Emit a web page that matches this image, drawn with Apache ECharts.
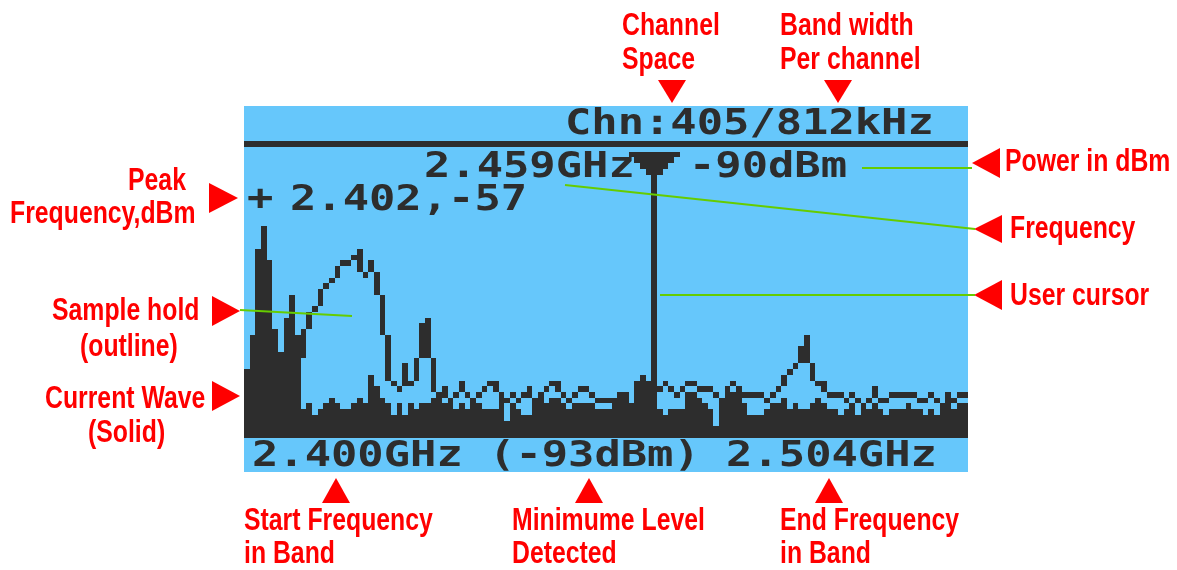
<!DOCTYPE html>
<html>
<head>
<meta charset="utf-8">
<script src="https://cdn.jsdelivr.net/npm/echarts/dist/echarts.min.js"></script>
<style>
html, body { margin: 0; padding: 0; background: #fff; }
#main { width: 1177px; height: 570px; }
</style>
</head>
<body>
<div id="main"></div>
<script>
// 128 channels, 812kHz each, 2.400 - 2.504 GHz
var channelInfo = 'Chn:405/812kHz';
var startFreq = '2.400GHz';
var endFreq = '2.504GHz';
var minLevel = '(-93dBm)';
var peakInfo = '2.402,-57';
var cursorFreq = '2.459GHz';
var cursorPower = '-90dBm';
var cursorChannel = 72;

// current wave (solid), dBm per channel
var currentWave = [
    -82, -76, -61, -57, -63, -75, -79, -73, -69, -76,
    -89, -88, -90, -89, -88, -87, -88, -89, -89, -88,
    -87, -88, -83, -85, -87, -88, -90, -88, -90, -88,
    -89, -88, -88, -87, -87, -88, -88, -89, -88, -89,
    -88, -88, -89, -89, -89, -87, -91, -88, -89, -90,
    -90, -88, -87, -88, -87, -87, -88, -89, -88, -88,
    -88, -88, -89, -89, -89, -88, -87, -87, -89, -84,
    -83, -84, -84, -89, -90, -89, -89, -89, -86, -86,
    -87, -88, -89, -92, -88, -87, -86, -86, -88, -90,
    -90, -90, -89, -88, -88, -87, -89, -88, -89, -89,
    -88, -87, -88, -89, -89, -90, -89, -88, -90, -89,
    -89, -88, -89, -90, -89, -89, -89, -88, -89, -89,
    -90, -89, -90, -89, -88, -89, -88, -88
];

// sample hold (outline), dBm per channel
var sampleHold = [
    -82, -76, -61, -57, -63, -75, -79, -73, -69, -80,
    -75, -72, -71, -68, -67, -66, -64, -63, -63, -62,
    -61, -65, -63, -65, -69, -76, -84, -85, -81, -84,
    -80, -74, -73, -80, -86, -85, -87, -86, -84, -86,
    -87, -86, -85, -84, -84, -86, -87, -86, -87, -86,
    -85, -87, -86, -85, -84, -84, -86, -87, -86, -85,
    -85, -86, -87, -87, -87, -87, -86, -86, -88, -84,
    -83, -84, -84, -85, -84, -85, -86, -85, -84, -84,
    -85, -85, -85, -86, -87, -85, -84, -85, -86, -86,
    -86, -86, -87, -86, -85, -83, -82, -81, -78, -76,
    -81, -84, -84, -86, -86, -86, -87, -86, -87, -88,
    -87, -85, -87, -87, -86, -86, -86, -86, -86, -87,
    -87, -86, -87, -88, -86, -87, -86, -86
];

var INK = '#2d2d2d';
var LCD = '#66c7fb';
var RED = '#ff0000';
var GREEN = '#66cc00';
var FLOOR = -94;

var chart = echarts.init(document.getElementById('main'));

// one LCD column, from dBm "top" down to dBm "bottom"
function colRect(api, i, top, bottom) {
    var a = api.coord([i, top]);
    var b = api.coord([i + 1, bottom]);
    var x0 = Math.round(a[0]), x1 = Math.round(b[0]);
    var y0 = Math.round(a[1]), y1 = Math.round(b[1]);
    return {
        type: 'rect',
        shape: { x: x0, y: y0, width: x1 - x0, height: y1 - y0 },
        style: { fill: INK }
    };
}

function toPoints(arr) {
    return arr.map(function (v, i) { return [i, v]; });
}

function lcdText(str, x, y) {
    return {
        type: 'text', x: x, y: y, scaleX: 1.25, z: 20,
        style: { text: str, fill: INK, font: 'bold 35px "DejaVu Sans Mono"', verticalAlign: 'middle' }
    };
}

function note(str, x, y) {
    return {
        type: 'text', x: x, y: y, scaleX: 0.8, z: 20,
        style: { text: str, fill: RED, font: 'bold 31px "Liberation Sans"', verticalAlign: 'middle' }
    };
}

function tri(points) {
    return { type: 'polygon', z: 20, shape: { points: points }, style: { fill: RED } };
}

function leader(x1, y1, x2, y2) {
    return { type: 'line', z: 30, shape: { x1: x1, y1: y1, x2: x2, y2: y2 }, style: { stroke: GREEN, lineWidth: 2 } };
}

var option = {
    animation: false,
    grid: {
        left: 244, top: 106, width: 724, height: 366,
        show: true, backgroundColor: LCD, borderWidth: 0
    },
    xAxis: { type: 'value', min: 0, max: 128, show: false },
    yAxis: { type: 'value', min: -100, max: -36, show: false },
    series: [
        {
            name: 'Current Wave',
            type: 'custom',
            data: toPoints(currentWave),
            renderItem: function (params, api) {
                return colRect(api, api.value(0), api.value(1), FLOOR);
            }
        },
        {
            name: 'Sample hold',
            type: 'custom',
            data: toPoints(sampleHold),
            renderItem: function (params, api) {
                var i = params.dataIndex;
                var v = sampleHold[i];
                // join to the neighbours like the LCD line drawing does
                var low = v;
                if (i > 0) low = Math.min(low, sampleHold[i - 1] + 1);
                if (i < sampleHold.length - 1) low = Math.min(low, sampleHold[i + 1] + 1);
                return colRect(api, i, v, low - 1);
            }
        },
        {
            name: 'User cursor',
            type: 'custom',
            data: [[cursorChannel, currentWave[cursorChannel]]],
            renderItem: function (params, api) {
                var c = api.value(0);
                var parts = [colRect(api, c, -48, FLOOR)];
                // stepped marker head under the separator
                for (var k = 0; k < 4; k++) {
                    var w = 4 - k;
                    var a = api.coord([c - w, -44 - k]);
                    var b = api.coord([c + w + 1, -45 - k]);
                    parts.push({
                        type: 'rect',
                        shape: { x: Math.round(a[0]), y: Math.round(a[1]), width: Math.round(b[0]) - Math.round(a[0]), height: Math.round(b[1]) - Math.round(a[1]) },
                        style: { fill: INK }
                    });
                }
                return { type: 'group', children: parts };
            }
        }
    ],
    graphic: [
        // separator under the header
        { type: 'rect', z: 20, shape: { x: 244, y: 141, width: 724, height: 6 }, style: { fill: INK } },

        lcdText(channelInfo, 565, 125),
        lcdText(cursorFreq, 424, 168),
        lcdText(cursorPower, 689, 168),
        lcdText('+', 247, 201),
        lcdText(peakInfo, 290, 201),
        lcdText(startFreq + ' ' + minLevel + ' ' + endFreq, 252, 457),

        // leader lines
        leader(862, 168, 972, 168),
        leader(565, 185, 975, 229),
        leader(660, 295, 975, 295),
        leader(240, 310, 352, 316),

        // top notes
        note('Channel', 622, 26),
        note('Space', 622, 60),
        note('Band width', 780, 26),
        note('Per channel', 780, 60),
        tri([[658, 80], [686, 80], [672, 103]]),
        tri([[824, 80], [852, 80], [838, 103]]),

        // left notes
        note('Peak', 128, 181),
        note('Frequency,dBm', 10, 214),
        note('Sample hold', 52, 311),
        note('(outline)', 80, 347),
        note('Current Wave', 45, 399),
        note('(Solid)', 88, 433),
        tri([[209, 183], [238, 198], [209, 213]]),
        tri([[212, 296], [240, 311], [212, 326]]),
        tri([[212, 381], [240, 396], [212, 411]]),

        // right notes
        tri([[1000, 148], [972, 163], [1000, 178]]),
        tri([[1002, 215], [974, 229], [1002, 243]]),
        tri([[1002, 280], [974, 295], [1002, 310]]),
        note('Power in dBm', 1005, 162),
        note('Frequency', 1010, 229),
        note('User cursor', 1010, 296),

        // bottom notes
        tri([[322, 503], [350, 503], [336, 478]]),
        tri([[575, 503], [603, 503], [589, 478]]),
        tri([[815, 503], [843, 503], [829, 478]]),
        note('Start Frequency', 244, 521),
        note('in Band', 244, 554),
        note('Minimume Level', 512, 521),
        note('Detected', 512, 554),
        note('End Frequency', 780, 521),
        note('in Band', 780, 554)
    ]
};

chart.setOption(option);
</script>
</body>
</html>
